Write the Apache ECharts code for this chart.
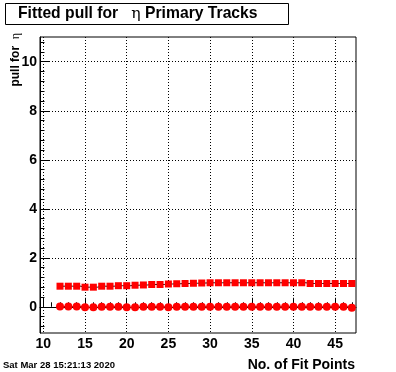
<!DOCTYPE html>
<html><head><meta charset="utf-8">
<script src="https://cdn.jsdelivr.net/npm/echarts@6/dist/echarts.min.js"></script>
<style>html,body{margin:0;padding:0;background:#fff}#c{width:396px;height:372px}</style>
</head><body><div id="c"></div>
<script>
// ---- data ----
const fitPoints = [12,13,14,15,16,17,18,19,20,21,22,23,24,25,26,27,28,29,30,31,32,33,34,35,36,37,38,39,40,41,42,43,44,45,46,47];
const pullSigma = [0.84,0.84,0.84,0.80,0.80,0.84,0.84,0.86,0.86,0.88,0.89,0.91,0.91,0.93,0.94,0.95,0.96,0.97,0.98,0.98,0.98,0.98,0.98,0.98,0.98,0.98,0.98,0.98,0.98,0.98,0.95,0.95,0.95,0.95,0.95,0.95];
const pullMean  = [0.01,0.01,0.01,-0.02,-0.02,0.00,0.00,0.00,-0.02,-0.02,0.00,0.00,0.00,-0.02,0.00,0.00,0.00,0.00,0.00,0.00,0.00,0.00,0.00,0.00,0.00,0.00,0.00,0.00,0.00,0.00,0.00,0.00,0.00,0.00,0.00,-0.04];
const xTickLabels = [10,15,20,25,30,35,40,45];
const yTickLabels = [0,2,4,6,8,10];
const xMinorTicks = []; for (let v = 10; v <= 47; v++) xMinorTicks.push(v);
const yMinorTicks = []; for (let i = -2; i <= 27; i++) yMinorTicks.push(+(i * 0.4).toFixed(1));

const FONT = '"Liberation Sans", Arial, sans-serif';
const chart = echarts.init(document.getElementById('c'), null, {renderer: 'canvas'});
const pair = (xs, ys) => xs.map((x, i) => [x, ys[i]]);
const dotted = {type: [1, 2], color: '#000', width: 1};

chart.setOption({
  animation: false,
  backgroundColor: '#fff',
  grid: {left: 40, top: 37, width: 316, height: 296, show: true, borderColor: '#000', borderWidth: 1, backgroundColor: 'transparent'},
  xAxis: [
    {type: 'value', min: 9.6, max: 47.5, position: 'bottom',
     axisLine: {show: true, lineStyle: {color: '#000', width: 1}},
     axisTick: {show: true, inside: true, length: 9, customValues: xTickLabels, lineStyle: {color: '#000'}},
     axisLabel: {customValues: xTickLabels, color: '#000', fontFamily: FONT, fontWeight: 'bold', fontSize: 14, margin: 4},
     splitLine: {show: true, lineStyle: dotted}},
    {type: 'value', min: 9.6, max: 47.5, position: 'bottom',
     axisLine: {show: false},
     axisTick: {show: true, inside: true, length: 4.5, customValues: xMinorTicks, lineStyle: {color: '#000'}},
     axisLabel: {show: false}, splitLine: {show: false}}
  ],
  yAxis: [
    {type: 'value', min: -1.07, max: 11.01, position: 'left',
     axisLine: {show: true, lineStyle: {color: '#000', width: 1}},
     axisTick: {show: true, inside: true, length: 9, customValues: yTickLabels, lineStyle: {color: '#000'}},
     axisLabel: {customValues: yTickLabels, color: '#000', fontFamily: FONT, fontWeight: 'bold', fontSize: 14, margin: 3},
     splitLine: {show: true, lineStyle: dotted}},
    {type: 'value', min: -1.07, max: 11.01, position: 'left',
     axisLine: {show: false},
     axisTick: {show: true, inside: true, length: 4.5, customValues: yMinorTicks, lineStyle: {color: '#000'}},
     axisLabel: {show: false}, splitLine: {show: false}}
  ],
  series: [
    {type: 'line', step: 'middle', data: pair(fitPoints, pullSigma), symbol: 'none', lineStyle: {color: '#000', width: 1}, z: 1},
    {type: 'line', step: 'middle', data: pair(fitPoints, pullMean), symbol: 'none', lineStyle: {color: '#000', width: 1}, z: 1},
    {type: 'scatter', data: pair(fitPoints, pullSigma), symbol: 'rect', symbolSize: 7, itemStyle: {color: '#ff0000', opacity: 1}, z: 3},
    {type: 'scatter', data: pair(fitPoints, pullMean), symbol: 'circle', symbolSize: 8, itemStyle: {color: '#ff0000', opacity: 1}, z: 3}
  ],
  graphic: [
    {type: 'rect', shape: {x: 5.5, y: 3.5, width: 283, height: 21}, style: {fill: '#fff', stroke: '#000', lineWidth: 1}},
    {type: 'text', x: 18, y: 14, style: {
      text: '{b|Fitted pull for   }{g|η}{b| Primary Tracks}',
      textVerticalAlign: 'middle',
      rich: {b: {fontFamily: FONT, fontWeight: 'bold', fontSize: 15.7, fill: '#000'},
             g: {fontFamily: '"DejaVu Serif", "Liberation Serif", serif', fontSize: 15.7, fill: '#000'}}}},
    {type: 'text', x: 16, y: 33, rotation: Math.PI / 2, style: {
      text: '{b|pull for  }{g|η}', textAlign: 'right', textVerticalAlign: 'middle',
      rich: {b: {fontFamily: FONT, fontWeight: 'bold', fontSize: 12, fill: '#000'},
             g: {fontFamily: '"Liberation Serif", serif', fontSize: 12, fill: '#000'}}}},
    {type: 'text', x: 355, y: 365, style: {text: 'No. of Fit Points', textAlign: 'right', textVerticalAlign: 'middle',
      fontFamily: FONT, fontWeight: 'bold', fontSize: 14, fill: '#000'}},
    {type: 'text', x: 3, y: 365, style: {text: 'Sat Mar 28 15:21:13 2020', textAlign: 'left', textVerticalAlign: 'middle',
      fontFamily: FONT, fontWeight: 'bold', fontSize: 9.5, fill: '#000'}}
  ]
});
</script></body></html>
